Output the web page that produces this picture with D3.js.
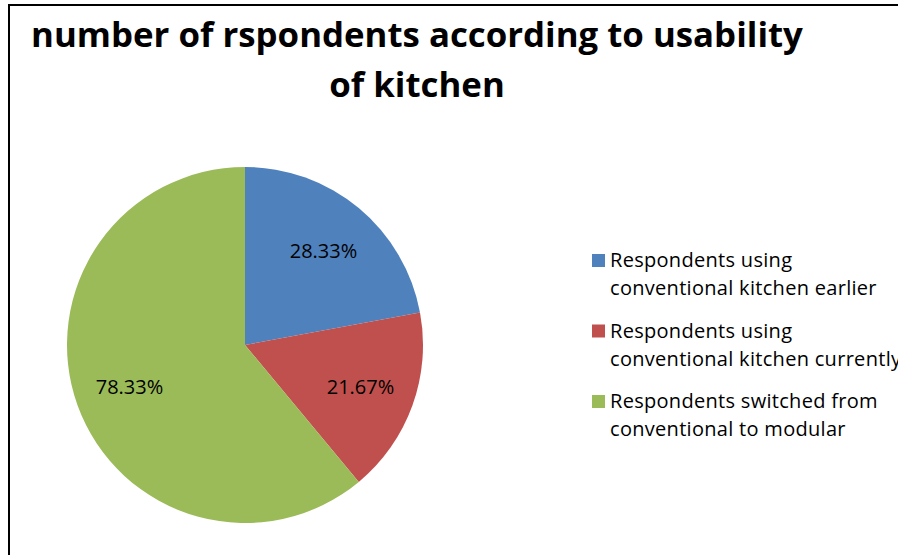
<!DOCTYPE html>
<html>
<head>
<meta charset="utf-8">
<script src="https://cdn.jsdelivr.net/npm/d3@7"></script>
<style>
  body { margin: 0; background: #fff; }
  svg { display: block; }
</style>
</head>
<body>
<div class="pie-chart"></div>
<script>
const categories = [
    "Respondents using conventional kitchen earlier",
    "Respondents using conventional kitchen currently",
    "Respondents switched from conventional to modular"
]
const values = [28.33, 21.67, 78.33]
const legendLines = [
    ["Respondents using", "conventional kitchen earlier"],
    ["Respondents using", "conventional kitchen currently"],
    ["Respondents switched from", "conventional to modular"]
]
const colors = ["#4F81BD", "#C0504D", "#9BBB59"]
const titleLines = ["number of rspondents according to usability", "of kitchen"]

const width = 898
const height = 555
const radius = 178
const font = "'Open Sans', Lato, sans-serif"

const svg = d3.select(".pie-chart")
    .append('svg')
    .attr('width', width)
    .attr('height', height)

// chart frame, runs off the right and bottom edges like the original
svg.append('rect')
    .attr('x', 9)
    .attr('y', 5)
    .attr('width', 1000)
    .attr('height', 1000)
    .attr('fill', 'none')
    .attr('stroke', '#000')
    .attr('stroke-width', 2)

svg.selectAll('.title')
    .data(titleLines)
    .join('text')
    .attr('class', 'title')
    .attr('x', 417)
    .attr('y', (d, i) => 47 + i * 50)
    .attr('text-anchor', 'middle')
    .style('font-family', font)
    .style('font-weight', 'bold')
    .style('font-size', '34.8px')
    .text(d => d)

const pie = d3.pie().sort(null).value(d => d)
const arcs = pie(values)
const arc = d3.arc().innerRadius(0).outerRadius(radius)
const labelArc = d3.arc().innerRadius(radius * 0.69).outerRadius(radius * 0.69)

const g = svg.append('g')
    .attr('transform', `translate(245,345)`)

g.selectAll('path')
    .data(arcs)
    .join('path')
    .attr('d', arc)
    .attr('fill', (d, i) => colors[i])

g.selectAll('.label')
    .data(arcs)
    .join('text')
    .attr('class', 'label')
    .attr('transform', d => `translate(${labelArc.centroid(d)})`)
    .attr('text-anchor', 'middle')
    .attr('dy', '0.35em')
    .style('font-family', font)
    .style('font-size', '20px')
    .style('fill', '#000')
    .text(d => d.data.toFixed(2) + '%')

const legend = svg.append('g')
    .attr('transform', 'translate(592,267)')

const item = legend.selectAll('g')
    .data(categories)
    .join('g')
    .attr('transform', (d, i) => `translate(0,${i * 70.5})`)

item.append('rect')
    .attr('x', 0)
    .attr('y', -13)
    .attr('width', 13)
    .attr('height', 13)
    .attr('fill', (d, i) => colors[i])

item.append('text')
    .style('font-family', font)
    .style('font-size', '20px')
    .style('letter-spacing', '0.3px')
    .style('fill', '#000')
    .selectAll('tspan')
    .data((d, i) => legendLines[i])
    .join('tspan')
    .attr('x', 18)
    .attr('y', (d, j) => j * 28)
    .text(d => d)
</script>
</body>
</html>
